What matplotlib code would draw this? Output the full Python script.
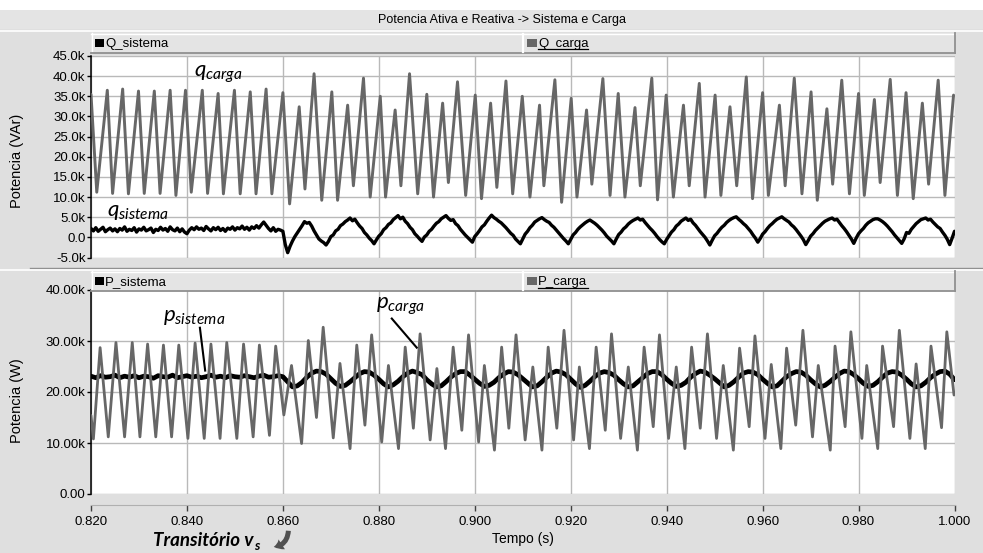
import numpy as np
import matplotlib
matplotlib.use("Agg")
import matplotlib.pyplot as plt
from matplotlib.patches import Rectangle, FancyArrowPatch
from matplotlib.lines import Line2D

plt.rcParams["font.family"] = ["Liberation Sans", "DejaVu Sans"]
plt.rcParams["mathtext.fontset"] = "custom"
plt.rcParams["mathtext.it"] = "Lato:italic"
plt.rcParams["mathtext.rm"] = "Lato"

# ---------------- data (kVAr / kW) ----------------
# Q_carga: turning points (time in s, value in k)
t_qcarga = [0.8200, 0.8212, 0.8234, 0.8245, 0.8266, 0.8278, 0.8299, 0.8311, 0.8332, 0.8344,
            0.8365, 0.8377, 0.8397, 0.8409, 0.8432, 0.8443, 0.8465, 0.8476, 0.8499, 0.8511,
            0.8532, 0.8544, 0.8565, 0.8577, 0.8600,
            0.8614, 0.8634, 0.8646, 0.8665, 0.8681,
            0.8702, 0.8714, 0.8735, 0.8747, 0.8768, 0.8782, 0.8803, 0.8814, 0.8834, 0.8846,
            0.8864, 0.8881, 0.8900, 0.8914, 0.8933, 0.8945, 0.8964, 0.8981, 0.9001, 0.9014,
            0.9033, 0.9046, 0.9065, 0.9079, 0.9099, 0.9115, 0.9135, 0.9144, 0.9167, 0.9181,
            0.9201, 0.9213, 0.9233, 0.9244, 0.9267, 0.9282, 0.9299, 0.9313, 0.9334, 0.9345,
            0.9369, 0.9381, 0.9399, 0.9414, 0.9435, 0.9447, 0.9468, 0.9480, 0.9501, 0.9513,
            0.9532, 0.9546, 0.9566, 0.9579, 0.9600, 0.9612, 0.9635, 0.9647, 0.9666, 0.9682,
            0.9701, 0.9714, 0.9734, 0.9746, 0.9765, 0.9781, 0.9800, 0.9812, 0.9833, 0.9845,
            0.9866, 0.9881, 0.9899, 0.9914, 0.9933, 0.9946, 0.9966, 0.9980, 0.9998]
q_carga = [35.5, 11.2, 36.5, 10.9, 36.8, 10.8, 36.3, 10.9, 36.3, 10.9,
           36.5, 10.4, 36.5, 11.2, 36.5, 10.9, 35.7, 10.8, 36.5, 10.8,
           36.1, 10.8, 36.8, 10.8, 35.9,
           8.3, 32.4, 12.0, 40.6, 9.2,
           36.1, 9.2, 32.8, 12.8, 39.5, 10.0, 35.0, 10.0, 31.6, 12.8,
           40.6, 10.8, 35.5, 10.0, 33.3, 13.6, 38.6, 10.4, 35.3, 9.6,
           33.3, 12.4, 38.8, 10.8, 35.0, 10.0, 32.8, 12.8, 39.1, 8.7,
           34.5, 10.0, 31.6, 13.2, 39.4, 10.4, 35.7, 10.0, 32.2, 12.8,
           39.5, 9.3, 35.3, 10.0, 32.8, 12.8, 38.2, 10.0, 35.3, 10.4,
           32.4, 12.8, 39.8, 9.6, 35.9, 10.4, 32.8, 12.8, 39.5, 10.8,
           36.1, 9.2, 31.9, 13.2, 39.0, 10.8, 35.7, 10.4, 34.2, 13.6,
           39.2, 10.4, 35.9, 9.6, 33.3, 13.2, 39.0, 10.4, 35.3]

# Q_sistema: samples every 0.5 ms from 0.820 s to 1.000 s
q_sistema = [2.2, 1.6, 2.4, 1.5, 2.0, 2.5, 1.4, 1.9, 2.3, 1.6,
             2.1, 1.4, 2.2, 1.8, 2.6, 1.5, 2.0, 1.7, 2.4, 1.3,
             2.1, 1.8, 2.5, 1.6, 1.9, 2.3, 1.2, 2.0, 1.7, 2.5,
             1.8, 2.2, 1.5, 2.6, 1.9, 1.6, 2.3, 1.4, 2.1, 1.3,
             0.9, 1.8, 2.4, 1.9, 2.6, 2.0, 2.3, 1.7, 2.7, 2.1,
             1.6, 2.4, 1.9, 2.5, 1.7, 2.2, 1.5, 2.3, 2.0, 2.6,
             1.8, 2.4, 2.1, 2.8, 2.0, 2.5, 1.8, 2.6, 2.2, 2.9,
             2.3, 3.1, 3.8, 3.0, 2.2, 1.6, 2.4, 1.5, 2.0, 1.8,
             1.5, -1.8, -3.8, -2.2, -0.9, 0.2, 1.1, 2.0, 2.9, 3.9,
             3.5, 3.7, 2.8, 1.6, 0.6, -0.4, -0.9, -1.3, -1.9, -1.0,
             0.2, 0.6, 1.6, 2.0, 2.9, 3.3, 3.9, 4.3, 4.8, 4.1,
             4.5, 3.6, 2.8, 2.2, 1.2, 0.6, -0.2, -0.8, -1.6, -0.6,
             0.3, 0.9, 1.9, 2.4, 3.2, 3.6, 4.4, 4.9, 5.4, 4.6,
             5.0, 4.0, 3.4, 2.5, 1.9, 0.9, 0.3, -0.4, -1.0, 0.1,
             0.6, 1.5, 2.0, 2.8, 3.5, 3.9, 4.6, 5.0, 5.4, 4.7,
             4.2, 4.4, 3.4, 2.9, 2.0, 1.3, 0.6, 0.0, -0.6, -1.2,
             0.2, 0.9, 1.7, 2.6, 3.1, 4.0, 4.8, 5.5, 4.9, 4.5,
             4.0, 3.6, 3.0, 2.4, 1.7, 1.0, 0.5, -0.4, -1.0, -1.6,
             -0.4, 0.8, 1.5, 2.4, 3.0, 3.8, 4.2, 4.6, 4.9, 4.4,
             4.0, 3.7, 3.0, 2.5, 1.8, 1.1, 0.4, -0.3, -0.9, -1.6,
             -0.5, 0.6, 1.2, 2.0, 2.6, 3.1, 3.6, 4.0, 4.3, 3.9,
             3.5, 3.0, 2.4, 1.8, 1.1, 0.3, -0.3, -0.9, -1.6, -0.4,
             0.7, 1.3, 2.1, 2.6, 3.3, 3.8, 4.2, 4.5, 4.8, 4.3,
             4.5, 3.7, 3.0, 2.3, 1.7, 1.0, 0.2, -0.5, -1.1, -1.6,
             -0.5, 0.4, 1.3, 1.9, 2.8, 3.3, 4.0, 4.4, 4.8, 4.2,
             4.5, 3.6, 3.0, 2.2, 1.4, 0.7, 0.0, -0.9, -1.9, -0.7,
             0.4, 1.0, 1.8, 2.5, 3.0, 3.7, 4.2, 4.6, 4.9, 5.1,
             4.5, 4.0, 3.4, 2.9, 2.2, 1.5, 0.6, -0.2, -1.2, -0.3,
             0.8, 1.4, 2.2, 2.9, 3.4, 4.0, 4.5, 4.8, 5.1, 4.6,
             4.2, 3.8, 3.1, 2.6, 1.9, 1.1, 0.3, -0.6, -1.8, -0.8,
             0.3, 0.9, 1.7, 2.3, 2.9, 3.5, 4.0, 4.3, 4.6, 4.8,
             4.3, 4.5, 3.7, 2.9, 2.2, 1.4, 0.5, -0.4, -1.5, -0.2,
             0.9, 1.6, 2.2, 3.0, 3.6, 4.0, 4.4, 4.6, 4.6, 4.3,
             3.9, 3.4, 2.8, 2.1, 1.4, 0.6, -0.1, -0.8, -1.5, -0.4,
             1.2, 1.0, 2.0, 2.7, 3.4, 3.9, 4.4, 4.6, 4.8, 4.3,
             4.5, 3.8, 3.2, 2.6, 2.2, 1.3, 0.5, -0.5, -1.8, -0.2,
             1.5]

# P_carga: turning points (time in s, value in k)
t_pcarga = [0.8200, 0.8205, 0.8219, 0.8236, 0.8252, 0.8270, 0.8286, 0.8302, 0.8318, 0.8335,
            0.8351, 0.8368, 0.8383, 0.8402, 0.8417, 0.8436, 0.8450, 0.8469, 0.8483, 0.8504,
            0.8518, 0.8538, 0.8551, 0.8572, 0.8585,
            0.8602, 0.8618, 0.8639, 0.8653, 0.8670, 0.8684, 0.8705, 0.8719, 0.8740, 0.8754,
            0.8771, 0.8785, 0.8806, 0.8820, 0.8841, 0.8855,
            0.8872, 0.8886, 0.8907, 0.8921, 0.8939, 0.8955, 0.8973, 0.8987, 0.9008, 0.9020,
            0.9041, 0.9056, 0.9071, 0.9086, 0.9105, 0.9121, 0.9140, 0.9153,
            0.9171, 0.9186, 0.9206, 0.9218, 0.9239, 0.9253, 0.9272, 0.9285, 0.9304, 0.9320,
            0.9339, 0.9353, 0.9372, 0.9385, 0.9404, 0.9420,
            0.9438, 0.9452, 0.9470, 0.9485, 0.9504, 0.9518, 0.9539, 0.9552, 0.9572, 0.9584,
            0.9605, 0.9618, 0.9638, 0.9650, 0.9669, 0.9684, 0.9704,
            0.9716, 0.9741, 0.9751, 0.9772, 0.9784, 0.9807, 0.9817, 0.9840, 0.9850, 0.9873,
            0.9885, 0.9907, 0.9920, 0.9939, 0.9951, 0.9973, 0.9984, 0.9999]
p_carga = [15.4, 10.8, 28.7, 11.2, 29.7, 11.2, 29.7, 11.2, 29.4, 11.2,
           29.2, 11.2, 29.2, 10.9, 29.6, 10.9, 29.4, 10.9, 29.7, 10.9,
           29.4, 11.2, 29.2, 11.5, 29.0,
           15.5, 25.2, 9.9, 30.1, 15.0, 32.7, 11.0, 25.6, 8.9, 29.2,
           13.5, 31.2, 10.2, 25.2, 8.9, 28.8,
           12.9, 31.4, 10.6, 24.6, 8.9, 28.8, 12.5, 31.2, 10.2, 25.2,
           8.6, 28.8, 12.9, 31.2, 10.6, 24.9, 8.6, 28.8,
           12.9, 32.1, 10.6, 24.9, 8.9, 28.8, 12.5, 31.4, 10.9, 24.9,
           8.6, 28.8, 13.2, 31.2, 10.9, 24.9,
           8.9, 28.8, 12.9, 31.4, 10.9, 25.2, 8.6, 28.6, 13.2, 31.0,
           10.9, 25.4, 8.9, 28.6, 13.5, 32.1, 11.2,
           25.2, 8.6, 29.0, 13.2, 31.8, 10.9, 25.2, 8.9, 29.0, 13.2,
           32.1, 10.9, 25.5, 8.9, 29.0, 13.0, 31.8, 19.4]

# P_sistema: samples every 1 ms from 0.820 s to 1.000 s
p_sistema = [23.1, 22.8, 23.2, 22.9, 23.0, 23.3, 22.8, 23.1, 22.9, 23.2,
             22.8, 23.1, 23.0, 22.7, 23.2, 23.0, 22.9, 23.3, 22.8, 23.0,
             23.2, 22.9, 23.1, 22.8, 23.0, 23.3, 22.9, 23.1, 22.8, 23.2,
             23.0, 22.9, 23.2, 23.0, 22.8, 23.1, 23.3, 22.9, 23.0, 23.2,
             23.0, 22.0,
             21.0, 21.2, 21.9, 22.9, 23.7, 24.1, 24.0, 23.5, 22.6, 21.7,
             21.1, 21.3, 22.0, 22.8, 23.6, 24.0, 23.9, 23.3, 22.5, 21.6,
             21.0, 21.4, 22.1, 23.0, 23.7, 24.1, 23.8, 23.4, 22.4, 21.6,
             21.0, 21.2, 22.0, 22.9, 23.6, 24.0, 24.0, 23.3, 22.5, 21.7,
             21.1, 21.3, 21.9, 22.8, 23.5, 24.0, 23.9, 23.4, 22.6, 21.8,
             21.0, 21.2, 22.0, 22.9, 23.7, 24.1, 23.9, 23.4, 22.5, 21.6,
             20.9, 21.3, 22.1, 23.0, 23.7, 24.0, 23.8, 23.3, 22.4, 21.6,
             21.0, 21.2, 22.0, 22.8, 23.6, 24.0, 24.0, 23.4, 22.5, 21.7,
             21.1, 21.3, 21.9, 22.9, 23.6, 24.1, 23.9, 23.3, 22.6, 21.8,
             21.0, 21.3, 22.0, 22.9, 23.7, 24.0, 23.9, 23.4, 22.5, 21.7,
             21.0, 21.2, 22.1, 23.0, 23.6, 24.0, 23.9, 23.3, 22.4, 21.6,
             21.0, 21.3, 22.0, 22.8, 23.6, 24.1, 24.0, 23.4, 22.6, 21.7,
             21.1, 21.3, 22.0, 22.9, 23.7, 24.0, 23.9, 23.3, 22.5, 21.6,
             21.0, 21.2, 21.9, 22.8, 23.5, 24.0, 24.1, 23.5, 22.4]

x_ticks = [0.82, 0.84, 0.86, 0.88, 0.90, 0.92, 0.94, 0.96, 0.98, 1.00]
x_labels = ["0.820", "0.840", "0.860", "0.880", "0.900", "0.920", "0.940", "0.960", "0.980", "1.000"]
q_ticks = [-5e3, 0, 5e3, 10e3, 15e3, 20e3, 25e3, 30e3, 35e3, 40e3, 45e3]
q_labels = ["-5.0k", "0.0", "5.0k", "10.0k", "15.0k", "20.0k", "25.0k", "30.0k", "35.0k", "40.0k", "45.0k"]
p_ticks = [0, 10e3, 20e3, 30e3, 40e3]
p_labels = ["0.00", "10.00k", "20.00k", "30.00k", "40.00k"]

# ---------------- figure ----------------
W, H = 983, 553
BG = "#dfdfdf"
BAR = "#e4e4e4"
EDGE = "#909090"
GRID = "#b9b9b9"
TRACE_GRAY = "#676767"

fig = plt.figure(figsize=(W / 100, H / 100), dpi=100, facecolor=BG)


def fx(px):
    return px / W


def fy(py):
    return 1 - py / H


def rect(x0, y0, x1, y1, **kw):
    fig.add_artist(Rectangle((fx(x0), fy(y1)), fx(x1) - fx(x0), fy(y0) - fy(y1),
                             transform=fig.transFigure, **kw))


def seg(x0, y0, x1, y1, **kw):
    fig.add_artist(Line2D([fx(x0), fx(x1)], [fy(y0), fy(y1)], transform=fig.transFigure, **kw))


# white strip at the very top and the title bar
rect(0, 0, W, 10, facecolor="white", edgecolor="none")
rect(0, 10, W, 29, facecolor=BAR, edgecolor="none")
seg(0, 31, W, 31, color="white", lw=1.2)
fig.text(fx(502), fy(20), "Potencia Ativa e Reativa -> Sistema e Carga",
         ha="center", va="center", fontsize=9)

# separator between the two graph panels
seg(30, 267.5, W, 267.5, color=EDGE, lw=1.0)
seg(0, 270, W, 270, color="white", lw=1.2)


def legend_bar(y0, y1, left_name, right_name):
    rect(91, y0, 955, y1, facecolor=BAR, edgecolor="none")
    seg(91, y0 + 0.5, 955, y0 + 0.5, color="white", lw=1)
    seg(91.5, y0, 91.5, y1, color="white", lw=1)
    seg(91, y1 - 0.5, 955, y1 - 0.5, color=EDGE, lw=1.3)
    seg(954.5, y0, 954.5, y1, color=EDGE, lw=1.3)
    seg(522.5, y0 + 1, 522.5, y1 - 1, color="white", lw=1.6)
    base = y0 + 14
    rect(95, base - 8, 104, base, facecolor="black", edgecolor="none")
    fig.text(fx(105), fy(base), left_name, ha="left", va="baseline", fontsize=9.5)
    rect(527, base - 8, 537, base, facecolor=TRACE_GRAY, edgecolor="none")
    fig.text(fx(538), fy(base), right_name, ha="left", va="baseline", fontsize=9.5)
    seg(538, base + 2.5, 588, base + 2.5, color="black", lw=0.9)


legend_bar(33, 53, "Q_sistema", "Q_carga")
legend_bar(271, 291, "P_sistema", "P_carga")

ax1 = fig.add_axes([fx(91), fy(257.5), fx(954.5) - fx(91), fy(56) - fy(257.5)])
ax2 = fig.add_axes([fx(91), fy(494), fx(954.5) - fx(91), fy(290) - fy(494)])

for ax in (ax1, ax2):
    ax.set_facecolor("white")
    ax.set_xlim(0.82, 1.0)
    ax.set_xticks(x_ticks)
    ax.grid(True, color=GRID, lw=1.0)
    ax.set_axisbelow(True)
    for s in ("top", "right"):
        ax.spines[s].set_visible(False)
    ax.spines["left"].set_color("black")
    ax.spines["left"].set_linewidth(1.1)
    ax.tick_params(axis="y", direction="out", length=3, width=1, pad=1,
                   labelsize=9.5, colors="black")

ax1.set_ylim(-5e3, 45e3)
ax1.set_yticks(q_ticks, q_labels)
ax1.spines["bottom"].set_visible(False)
ax1.tick_params(axis="x", length=0, labelbottom=False)

ax2.set_ylim(0, 40e3)
ax2.set_yticks(p_ticks, p_labels)
ax2.spines["bottom"].set_position(("outward", 8))
ax2.spines["bottom"].set_color("#b0b0b0")
ax2.set_xticks(x_ticks, x_labels)
ax2.tick_params(axis="x", direction="out", length=4, width=1, color="#404040",
                labelsize=9.5, pad=4)

# traces
t_qs = np.linspace(0.82, 1.0, len(q_sistema))
t_ps = np.linspace(0.82, 1.0, len(p_sistema))
style = dict(solid_joinstyle="round", solid_capstyle="round")
ax1.plot(t_qcarga, np.array(q_carga) * 1e3, color=TRACE_GRAY, lw=2.1, zorder=3, **style)
ax1.plot(t_qs, np.array(q_sistema) * 1e3, color="black", lw=2.4, zorder=4, **style)
ax2.plot(t_ps, np.array(p_sistema) * 1e3, color="black", lw=3.4, zorder=3, **style)
ax2.plot(t_pcarga, np.array(p_carga) * 1e3, color=TRACE_GRAY, lw=2.0, zorder=4, **style)

# axis titles
fig.text(fx(17), fy(161), "Potencia (VAr)", rotation=90, ha="center", va="center", fontsize=10.5)
fig.text(fx(17), fy(401), "Potencia (W)", rotation=90, ha="center", va="center", fontsize=10.5)
fig.text(fx(523), fy(539), "Tempo (s)", ha="center", va="center", fontsize=10)

# trace annotations
ax1.text(0.8465, 40.4e3, r"$q_{carga}$", fontsize=16, ha="center", va="center", zorder=6)
ax1.text(0.8298, 6.4e3, r"$q_{sistema}$", fontsize=16, ha="center", va="center", zorder=6)
ax2.text(0.8415, 34.8e3, r"$p_{sistema}$", fontsize=16, ha="center", va="center", zorder=6)
ax2.text(0.8845, 36.8e3, r"$p_{carga}$", fontsize=16, ha="center", va="center", zorder=6)
ax2.plot([0.8427, 0.8438], [32.6e3, 24.2e3], color="black", lw=1.5, zorder=6)
ax2.plot([0.8827, 0.8879], [34.4e3, 28.7e3], color="black", lw=1.5, zorder=6)

# transient marker below the time axis
fig.text(fx(153), fy(546.5), "Transitório v", family="Lato", fontweight="bold",
         style="italic", fontsize=13.5, ha="left", va="baseline")
fig.text(fx(254), fy(550.5), "s", family="Lato", fontweight="bold",
         style="italic", fontsize=9.5, ha="left", va="baseline")
fig.add_artist(FancyArrowPatch(posA=(fx(288.5), fy(528)), posB=(fx(271), fy(547)),
                               transform=fig.transFigure,
                               connectionstyle="angle3,angleA=-90,angleB=0",
                               arrowstyle="simple,head_length=6,head_width=8.5,tail_width=3.6",
                               mutation_scale=1, color="#505050", lw=0))

fig.savefig("out.png", dpi=100, facecolor=BG)
